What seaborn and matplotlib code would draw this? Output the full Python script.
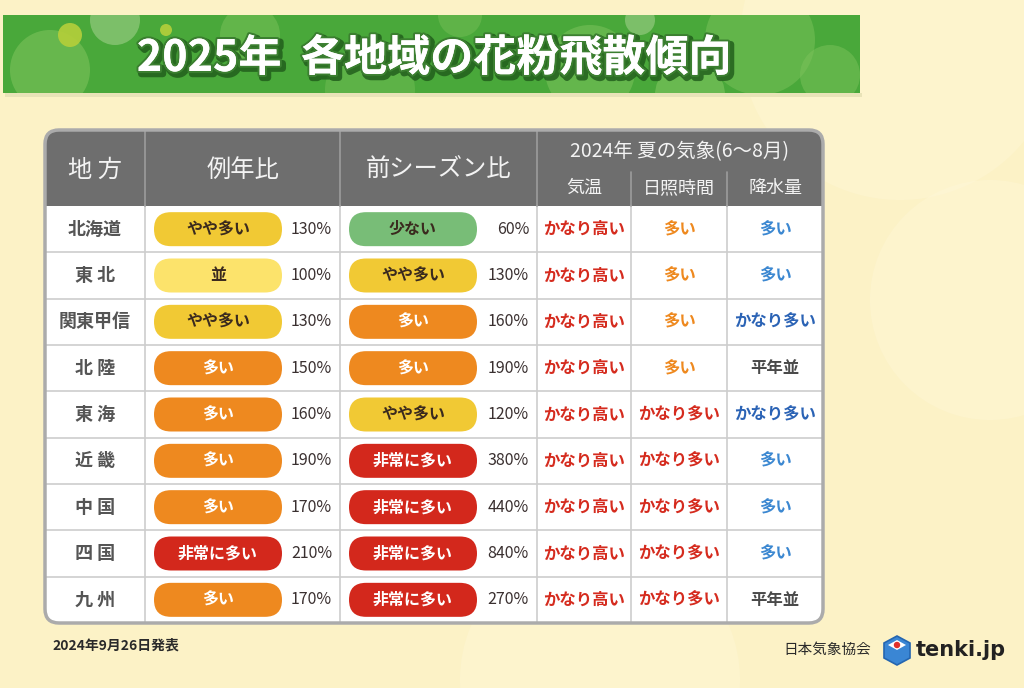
import numpy as np
import pandas as pd
import seaborn as sns
import matplotlib.pyplot as plt
import matplotlib.patheffects as pe
from matplotlib.patches import FancyBboxPatch, Rectangle, Circle, Polygon

# Table contents
regions = ['北海道', '東 北', '関東甲信', '北 陸', '東 海', '近 畿', '中 国', '四 国', '九 州']
normal_level = ['やや多い', '並', 'やや多い', '多い', '多い', '多い', '多い', '非常に多い', '多い']
normal_pct = [130, 100, 130, 150, 160, 190, 170, 210, 170]
prev_level = ['少ない', 'やや多い', '多い', '多い', 'やや多い', '非常に多い', '非常に多い', '非常に多い', '非常に多い']
prev_pct = [60, 130, 160, 190, 120, 380, 440, 840, 270]
temperature = ['かなり高い'] * 9
sunshine = ['多い', '多い', '多い', '多い', 'かなり多い', 'かなり多い', 'かなり多い', 'かなり多い', 'かなり多い']
precip = ['多い', '多い', 'かなり多い', '平年並', 'かなり多い', '多い', '多い', '多い', '平年並']

df = pd.DataFrame({'region': regions, 'normal': normal_level, 'normal_pct': normal_pct,
                   'prev': prev_level, 'prev_pct': prev_pct, 'temp': temperature,
                   'sun': sunshine, 'rain': precip})

levels = ['少ない', '並', 'やや多い', '多い', '非常に多い']
pal = sns.color_palette(['#78BD77', '#FCE36B', '#F1C934', '#EE891F', '#D3281C'])
level_colors = dict(zip(levels, pal))
level_text = {'少ない': '#3a2a1e', '並': '#3a2a1e', 'やや多い': '#3a2a1e', '多い': 'white', '非常に多い': 'white'}
temp_colors = {'かなり高い': '#D52B1E'}
sun_colors = {'多い': '#EE891F', 'かなり多い': '#D52B1E'}
rain_colors = {'多い': '#3C88D1', 'かなり多い': '#2B63B5', '平年並': '#4a4a4a'}

sns.set_theme(style='white')
plt.rcParams['font.family'] = ['Noto Sans CJK JP', 'DejaVu Sans']

fig = plt.figure(figsize=(10.24, 6.88), dpi=100)
fig.patch.set_facecolor('#FCF2C6')
ax = fig.add_axes([0, 0, 1, 1])
ax.set_xlim(0, 1024)
ax.set_ylim(688, 0)
ax.axis('off')

# soft background blobs
for cx, cy, r in [(900, 40, 160), (990, 300, 120), (600, 680, 140)]:
    ax.add_patch(Circle((cx, cy), r, color='#FFF8DC', alpha=0.35, lw=0, zorder=0))

# title banner
banner = Rectangle((3, 15), 857, 78, facecolor='#49A83A', edgecolor='none', zorder=1)
ax.add_patch(banner)
ax.add_patch(Rectangle((5, 93), 857, 4, facecolor='#E9E3B8', edgecolor='none', zorder=0.9))
for cx, cy, r, c, a in [(50, 70, 40, '#7CC25B', 0.6), (115, 20, 25, '#9FD08A', 0.6),
                        (70, 35, 12, '#B5CF3A', 0.9), (166, 30, 6, '#B5CF3A', 0.9),
                        (250, 35, 30, '#7CC25B', 0.5), (370, 90, 45, '#7CC25B', 0.4),
                        (590, 70, 45, '#7CC25B', 0.55), (640, 20, 15, '#9FD08A', 0.6),
                        (760, 40, 55, '#7CC25B', 0.5), (690, 95, 35, '#8ACB66', 0.5),
                        (830, 75, 30, '#7CC25B', 0.5), (460, 15, 22, '#7CC25B', 0.45)]:
    p = Circle((cx, cy), r, color=c, alpha=a, lw=0, zorder=1.1)
    ax.add_patch(p)
    p.set_clip_path(banner)
ax.text(434, 58, '2025年  各地域の花粉飛散傾向', ha='center', va='center', fontsize=31,
        fontweight='bold', color='white', zorder=3,
        path_effects=[pe.SimpleLineShadow(offset=(2, -2), shadow_color='#1f5a1a', alpha=0.8, linewidth=5),
                      pe.withStroke(linewidth=3, foreground='#3b7f30'), pe.Normal()])

# table geometry
col_edges = [45, 145, 340, 537, 631, 727, 823]
top, head_b, bottom = 130, 206, 623
row_h = (bottom - head_b) / len(df)

outer = FancyBboxPatch((col_edges[0], top), col_edges[-1] - col_edges[0], bottom - top,
                       boxstyle='round,pad=0,rounding_size=14', facecolor='white',
                       edgecolor='none', zorder=2)
ax.add_patch(outer)
head = Rectangle((col_edges[0], top), col_edges[-1] - col_edges[0], head_b - top,
                 facecolor='#6E6E6E', edgecolor='none', zorder=2.1)
ax.add_patch(head)
head.set_clip_path(outer)

# grid lines
for i in range(1, len(df)):
    y = head_b + i * row_h
    ax.plot([col_edges[0], col_edges[-1]], [y, y], color='#CDCDCD', lw=1.2, zorder=2.2)
for j, x in enumerate(col_edges[1:-1], start=1):
    ax.plot([x, x], [head_b, bottom], color='#CDCDCD', lw=1.2, zorder=2.2)
    y0 = top if j <= 3 else 172
    ax.plot([x, x], [y0, head_b], color='#9C9C9C', lw=1.2, zorder=2.3)
ax.add_patch(FancyBboxPatch((col_edges[0], top), col_edges[-1] - col_edges[0], bottom - top,
                            boxstyle='round,pad=0,rounding_size=14', facecolor='none',
                            edgecolor='#ABABAB', lw=2.5, zorder=2.5))

# header text
hc = '#F3F3F3'
for k, lab in enumerate(['地 方', '例年比', '前シーズン比']):
    ax.text((col_edges[k] + col_edges[k + 1]) / 2, 170, lab, ha='center', va='center',
            fontsize=17.5, color=hc, zorder=3)
ax.text((col_edges[3] + col_edges[6]) / 2, 152, '2024年 夏の気象(6～8月)', ha='center',
        va='center', fontsize=14, color=hc, zorder=3)
for k, lab in enumerate(['気温', '日照時間', '降水量'], start=3):
    ax.text((col_edges[k] + col_edges[k + 1]) / 2, 188, lab, ha='center', va='center',
            fontsize=13, color=hc, zorder=3)

# body
for i, row in df.iterrows():
    yc = head_b + (i + 0.5) * row_h
    ax.text((col_edges[0] + col_edges[1]) / 2, yc, row['region'], ha='center', va='center',
            fontsize=13, fontweight='bold', color='#555555', zorder=3)
    for k, lev, pct in [(1, row['normal'], row['normal_pct']), (2, row['prev'], row['prev_pct'])]:
        px = col_edges[k] + 9
        ax.add_patch(FancyBboxPatch((px, yc - 17), 128, 34, boxstyle='round,pad=0,rounding_size=17',
                                    facecolor=level_colors[lev], edgecolor='none', zorder=3))
        ax.text(px + 64, yc, lev, ha='center', va='center', fontsize=11.5, fontweight='bold',
                color=level_text[lev], zorder=4)
        ax.text(col_edges[k + 1] - 8, yc, f'{pct}%', ha='right', va='center', fontsize=11.5,
                color='#3a3030', zorder=4)
    for k, val, cmap in [(3, row['temp'], temp_colors), (4, row['sun'], sun_colors),
                         (5, row['rain'], rain_colors)]:
        ax.text((col_edges[k] + col_edges[k + 1]) / 2, yc, val, ha='center', va='center',
                fontsize=11.8, fontweight='bold', color=cmap[val], zorder=4)

# footer
ax.text(52, 646, '2024年9月26日発表', ha='left', va='center', fontsize=10,
        fontweight='bold', color='#2a2a2a')
ax.text(871, 650, '日本気象協会', ha='right', va='center', fontsize=10.5, color='#2a2a2a')
cube = Polygon([(897, 636), (910, 643), (910, 658), (897, 665), (884, 658), (884, 643)],
               closed=True, facecolor='#3A86D4', edgecolor='#2566B0', lw=1.2, zorder=3)
ax.add_patch(cube)
ax.add_patch(Polygon([(897, 640), (906, 645), (897, 650), (888, 645)], closed=True,
                     facecolor='white', edgecolor='none', zorder=3.1))
ax.add_patch(Circle((897, 645), 2.5, color='#E2302A', zorder=3.2))
ax.text(916, 650, 'tenki.jp', ha='left', va='center', fontsize=15, fontweight='bold',
        color='#222222', family=['DejaVu Sans'])

fig.savefig('out.png', dpi=100, facecolor=fig.get_facecolor())
